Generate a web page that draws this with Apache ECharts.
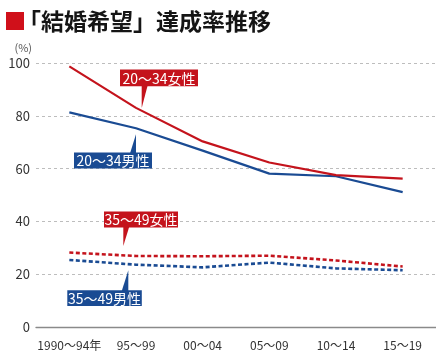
<!DOCTYPE html>
<html><head><meta charset="utf-8">
<script src="https://cdn.jsdelivr.net/npm/echarts@6/dist/echarts.min.js"></script>
<style>html,body{margin:0;padding:0;background:#fff}#c{width:436px;height:357px}</style>
</head><body><div id="c"></div>
<script>
const categories = ['1990〜94年', '95〜99', '00〜04', '05〜09', '10〜14', '15〜19'];
const female2034 = [98.7, 83.0, 70.3, 62.3, 57.5, 56.2];
const male2034 = [81.3, 75.3, 66.8, 58.1, 57.1, 51.1];
const female3549 = [28.2, 26.9, 26.8, 27.0, 25.2, 22.9];
const male3549 = [25.4, 23.6, 22.6, 24.4, 22.2, 21.5];
const yTicks = [0, 20, 40, 60, 80, 100];
const seriesNames = ['20〜34女性', '20〜34男性', '35〜49女性', '35〜49男性'];
const allSeries = [female2034, male2034, female3549, male3549];

const RED = '#c4131c', BLUE = '#1a4b93';
const FONT = '"Noto Sans CJK JP", "Noto Sans", sans-serif';

const chart = echarts.init(document.getElementById('c'), null, {renderer: 'canvas'});
chart.setOption({
  animation: false,
  backgroundColor: '#fff',
  title: {
    text: '「結婚希望」達成率推移', left: 18, top: 10, padding: 0,
    textStyle: {fontFamily: FONT, fontSize: 23, fontWeight: 'bold', color: '#151515'}
  },
  grid: {left: 36, right: 0, top: 63, bottom: 30},
  xAxis: {
    type: 'category', data: categories, boundaryGap: true,
    axisLine: {lineStyle: {color: '#8a8a8a', width: 1.3}},
    axisTick: {alignWithLabel: true, length: 5, lineStyle: {color: '#8a8a8a', width: 1.2}},
    axisLabel: {color: '#333', fontSize: 12, fontFamily: FONT, margin: 12, interval: 0}
  },
  yAxis: {
    type: 'value', min: 0, max: 100, interval: 20,
    name: '(%)', nameLocation: 'end', nameGap: 10,
    nameTextStyle: {color: '#555', fontSize: 11, fontFamily: FONT, align: 'right', padding: [0, 4, 0, 0]},
    axisLine: {show: false}, axisTick: {show: false},
    axisLabel: {color: '#333', fontSize: 13, fontFamily: FONT, margin: 6,
      formatter: v => yTicks.includes(v) ? String(v) : ''},
    splitLine: {lineStyle: {color: '#bdbdbd', type: [3, 3], width: 1}}
  },
  series: [
    {name: seriesNames[0], type: 'line', data: female2034, symbol: 'none', lineStyle: {color: RED, width: 2.2}, z: 3},
    {name: seriesNames[1], type: 'line', data: male2034, symbol: 'none', lineStyle: {color: BLUE, width: 2.2}, z: 2},
    {name: seriesNames[2], type: 'line', data: female3549, symbol: 'none', lineStyle: {color: RED, width: 2.6, type: [4, 2.5]}, z: 3},
    {name: seriesNames[3], type: 'line', data: male3549, symbol: 'none', lineStyle: {color: BLUE, width: 2.6, type: [4, 2.5]}, z: 2}
  ]
});

// callouts anchored at the 95〜99 point of each series
function callout(si, color, box, base, tip, label, up) {
  const p = chart.convertToPixel({seriesIndex: si}, [1, allSeries[si][1]]);
  const bx = p[0] + box[0], by = p[1] + box[1], bw = box[2], bh = box[3];
  const edgeY = up ? by + 1 : by + bh - 1;
  return {
    type: 'group', z: 100, children: [
      {type: 'polygon', shape: {points: [[p[0] + base[0], edgeY], [p[0] + base[1], edgeY], [p[0] + tip[0], p[1] + tip[1]]]}, style: {fill: color}},
      {type: 'rect', shape: {x: bx, y: by, width: bw, height: bh}, style: {fill: color}},
      {type: 'text', style: {x: bx + bw / 2, y: by + bh / 2 + 0.5, text: label, fill: '#fff', font: '14px ' + FONT, align: 'center', verticalAlign: 'middle'}}
    ]
  };
}

chart.setOption({
  graphic: [
    {type: 'rect', left: 6, top: 12, shape: {width: 18, height: 18}, style: {fill: '#d0101a'}},
    callout(0, RED, [-16, -38.3, 78, 16.7], [5.7, 11.7], [5.7, 0], seriesNames[0], false),
    callout(1, BLUE, [-62, 24.4, 78, 15.8], [-6, 0], [0, 6], seriesNames[1], true),
    callout(2, RED, [-32, -44.4, 74, 16], [-12.7, -6.7], [-12.7, -10], seriesNames[2], false),
    callout(3, BLUE, [-68.7, 25.6, 74.5, 15.8], [-14.3, -7.7], [-7.7, 5.6], seriesNames[3], true)
  ]
});
</script></body></html>
